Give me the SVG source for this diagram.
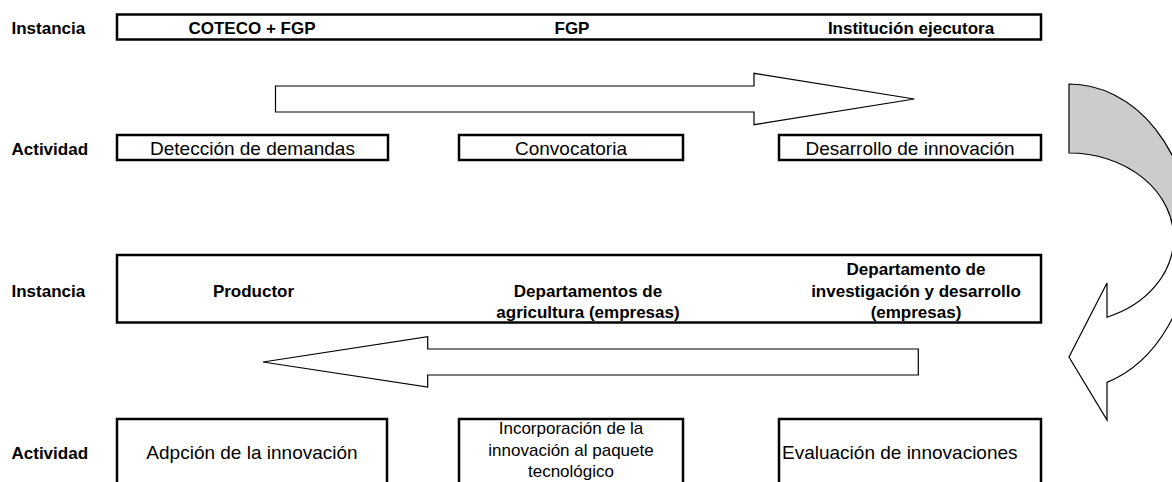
<svg xmlns="http://www.w3.org/2000/svg" width="1172" height="482" viewBox="0 0 1172 482">
<style>
.lbl{font-family:"Liberation Sans",Arial,sans-serif;font-weight:bold;font-size:17px;fill:#000}
.txt{font-family:"Liberation Sans",Arial,sans-serif;font-size:19px;fill:#000}
.sm{font-family:"Liberation Sans",Arial,sans-serif;font-size:17px;fill:#000}
.box{fill:#fff;stroke:#000;stroke-width:2.5}
.arr{fill:#fff;stroke:#000;stroke-width:1.2;stroke-linejoin:miter}
.m{text-anchor:middle}
</style>
<rect width="1172" height="482" fill="#fff"/>
<g id="row-labels">
<text class="lbl" x="11.5" y="34">Instancia</text>
<text class="lbl" x="11.5" y="154.5">Actividad</text>
<text class="lbl" x="11.5" y="297">Instancia</text>
<text class="lbl" x="11.5" y="459">Actividad</text>
</g>
<g id="instancia-top">
<rect class="box" x="117" y="14.5" width="924" height="25"/>
<text class="lbl m" x="252" y="34">COTECO + FGP</text>
<text class="lbl m" x="572" y="34">FGP</text>
<text class="lbl m" x="911" y="34">Institución ejecutora</text>
</g>
<g id="act-deteccion">
<rect class="box" x="117" y="135" width="271" height="25"/>
<text class="txt m" x="252.5" y="155">Detección de demandas</text>
</g>
<g id="act-convocatoria">
<rect class="box" x="459" y="135" width="224" height="25"/>
<text class="txt m" x="571" y="155">Convocatoria</text>
</g>
<g id="act-desarrollo">
<rect class="box" x="779" y="135" width="262" height="25"/>
<text class="txt m" x="910" y="155">Desarrollo de innovación</text>
</g>
<g id="instancia-bottom">
<rect class="box" x="117" y="255" width="924" height="67.5"/>
<text class="lbl m" x="253.5" y="297">Productor</text>
<text class="lbl m" x="588" y="297">Departamentos de</text>
<text class="lbl m" x="588" y="318">agricultura (empresas)</text>
<text class="lbl m" x="916" y="275">Departamento de</text>
<text class="lbl m" x="916" y="296.5">investigación y desarrollo</text>
<text class="lbl m" x="916" y="318">(empresas)</text>
</g>
<g id="act-adopcion">
<rect class="box" x="117" y="419" width="270" height="80"/>
<text class="txt m" x="252" y="459">Adpción de la innovación</text>
</g>
<g id="act-incorporacion">
<rect class="box" x="459" y="419" width="224" height="80"/>
<text class="sm m" x="571" y="434">Incorporación de la</text>
<text class="sm m" x="571" y="455.5">innovación al paquete</text>
<text class="sm m" x="571" y="477">tecnológico</text>
</g>
<g id="act-evaluacion">
<rect class="box" x="779" y="419" width="262" height="80"/>
<text class="txt" x="782" y="459">Evaluación de innovaciones</text>
</g>
<g id="connectors">
<path class="arr" d="M275.5,86 L754,86 L754,73.3 L914.3,99 L754,124.7 L754,112 L275.5,112 Z"/>
<path class="arr" d="M918.3,349 L427.7,349 L427.7,336.7 L263,362 L427.7,387 L427.7,375 L918.3,375 Z"/>
<path d="M1069,84 A122,153 0 0 1 1191,237 L1173.6,238 A104.6,85 0 0 0 1069,153 Z" fill="#cccccc" stroke="#000" stroke-width="1.2"/>
<path class="arr" d="M1191,237 A122,153 0 0 1 1107,382.4 L1107,420 L1069,357 L1107,283 L1107,317.2 A104.6,85 0 0 0 1173.6,238 Z"/>
</g>
</svg>
